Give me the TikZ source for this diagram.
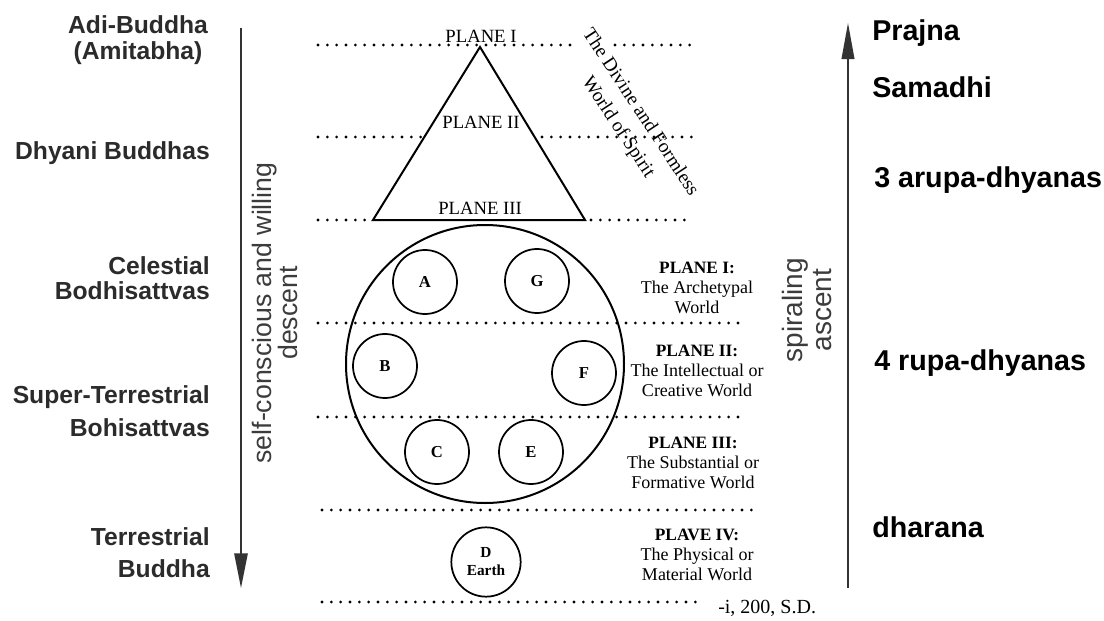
\documentclass[tikz,border=0pt]{standalone}
\usepackage{fontspec}
\setmainfont{Liberation Serif}
\setsansfont{Liberation Sans}
\usetikzlibrary{arrows.meta}
\definecolor{lbl}{HTML}{2B2B2B}
\definecolor{rot}{HTML}{3C3C3C}
\definecolor{arr}{HTML}{333333}
\tikzset{
  dotline/.style={line width=2.3pt, line cap=round, dash pattern=on 0pt off 7pt, black},
  shapeline/.style={line width=1.5pt, line join=miter},
  world/.style={circle, draw, line width=1.3pt, minimum size=48pt, inner sep=0pt,
    font=\bfseries\fontsize{12.5}{13}\selectfont},
  leftlbl/.style={text=lbl, font=\sffamily\bfseries\fontsize{18.5}{20}\selectfont, inner sep=0pt},
  rightlbl/.style={anchor=west, text=black, font=\sffamily\bfseries\fontsize{21.5}{24}\selectfont, inner sep=0pt},
  rottxt/.style={rotate=90, align=center, text=rot, inner sep=0pt},
  planelbl/.style={font=\fontsize{14}{16}\selectfont, inner sep=0pt},
  worldtxt/.style={align=center, inner sep=0pt, font=\fontsize{13.5}{15}\selectfont},
  arrline/.style={draw=arr, fill=arr, line width=1.2pt}
}
\begin{document}
\begin{tikzpicture}[x=0.75pt,y=-0.75pt]
\fill[white] (0,0) rectangle (1104,621);
\useasboundingbox (0,0) rectangle (1104,621);

% dotted plane lines
\draw[dotline] (318,45) -- (577,45);
\draw[dotline] (615,45) -- (690,45);
\draw[dotline] (318,137) -- (692,137);
\draw[dotline] (318,220) -- (370,220);
\draw[dotline] (591,220) -- (688,220);
\draw[dotline] (318,323) -- (745,323);
\draw[dotline] (318,417) -- (745,417);
\draw[dotline] (322,510) -- (752,510);
\draw[dotline] (322,602) -- (700,602);

% triangle
\draw[shapeline, fill=white] (480,47) -- (585,220) -- (373,220) -- cycle;
\node[planelbl] (p1) at (481,36) {PLANE I};
\node[planelbl] (p2) at (481,122) {PLANE II};
\node[planelbl] (p3) at (480,208) {PLANE III};
\node[rotate=-56.7, align=center, inner sep=0pt, font=\fontsize{14.5}{20}\selectfont] (divine) at (629,120)
  {The Divine and Formless\\World of Spirit};

% sphere and worlds
\draw[shapeline] (485,364) circle[radius=139];
\node[world] (A) at (425,282) {A};
\node[world] (G) at (537,281) {G};
\node[world] (B) at (385,366) {B};
\node[world] (F) at (584,373) {F};
\node[world] (C) at (437,452) {C};
\node[world] (E) at (531,452) {E};
\node[world, minimum size=52pt, align=center, font=\bfseries\fontsize{11.5}{13.5}\selectfont] (D) at (486,562) {D\\Earth};

% world descriptions
\node[worldtxt] (w1) at (697,288) {{\bfseries\fontsize{13}{15}\selectfont PLANE I:}\\The Archetypal\\World};
\node[worldtxt] (w2) at (697,371) {{\bfseries\fontsize{13}{15}\selectfont PLANE II:}\\The Intellectual or\\Creative World};
\node[worldtxt] (w3) at (693,463) {{\bfseries\fontsize{13}{15}\selectfont PLANE III:}\\The Substantial or\\Formative World};
\node[worldtxt] (w4) at (697,555) {{\bfseries\fontsize{13}{15}\selectfont PLAVE IV:}\\The Physical or\\Material World};
\node[anchor=west, inner sep=0pt, font=\fontsize{15}{17}\selectfont] (src) at (718,608) {-i, 200, S.D.};

% left labels
\node[leftlbl] (l1a) at (138,25) {Adi-Buddha};
\node[leftlbl] (l1b) at (138,53) {(Amitabha)};
\node[leftlbl, anchor=east] (l2) at (210,153) {Dhyani Buddhas};
\node[leftlbl, anchor=east] (l3a) at (210,266) {Celestial};
\node[leftlbl, anchor=east] (l3b) at (210,291) {Bodhisattvas};
\node[leftlbl, anchor=east] (l4a) at (210,397) {Super-Terrestrial};
\node[leftlbl, anchor=east] (l4b) at (210,428) {Bohisattvas};
\node[leftlbl, anchor=east] (l5a) at (210,537) {Terrestrial};
\node[leftlbl, anchor=east] (l5b) at (210,569) {Buddha};

% descent arrow
\coordinate (dtop) at (241,28);
\coordinate (dbot) at (241,588);
\draw[arrline, -{Triangle[length=26pt,width=10pt]}] (dtop) -- (dbot);
\node[rottxt, font=\sffamily\fontsize{20}{18.5}\selectfont] (desc) at (275,313)
  {self-conscious and willing\\descent};

% ascent arrow
\coordinate (abot) at (848,588);
\coordinate (atop) at (848,23);
\draw[arrline, -{Triangle[length=27pt,width=9.5pt]}] (abot) -- (atop);
\node[rottxt, font=\sffamily\fontsize{21}{22}\selectfont] (asc) at (807,310)
  {spiraling\\ascent};

% right labels
\node[rightlbl] (r1) at (872,33) {Prajna};
\node[rightlbl] (r2) at (872,87) {Samadhi};
\node[rightlbl] (r3) at (874,180) {3 arupa-dhyanas};
\node[rightlbl] (r4) at (874,363) {4 rupa-dhyanas};
\node[rightlbl] (r5) at (872,527) {dharana};
\end{tikzpicture}
\end{document}
